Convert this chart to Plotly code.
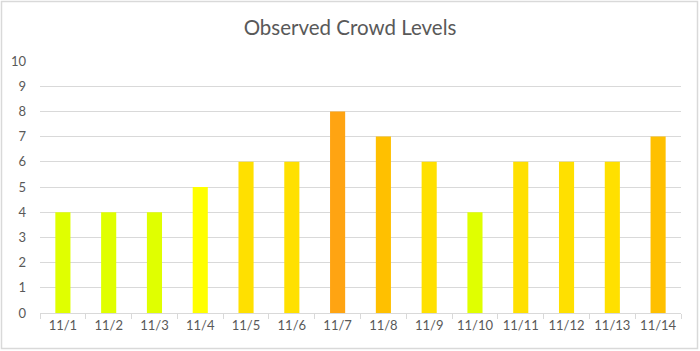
import plotly.graph_objects as go

dates = ["11/1", "11/2", "11/3", "11/4", "11/5", "11/6", "11/7",
         "11/8", "11/9", "11/10", "11/11", "11/12", "11/13", "11/14"]
levels = [4, 4, 4, 5, 6, 6, 8, 7, 6, 4, 6, 6, 6, 7]
level_colors = {4: "#E0FF00", 5: "#FFFF00", 6: "#FFE000", 7: "#FFC000", 8: "#FFA412"}

W, H = 700, 351
ml, mr, mt, mb = 40, 19, 61, 38
pw, ph = W - ml - mr, H - mt - mb

fig = go.Figure(go.Bar(
    x=dates, y=levels,
    marker=dict(color=[level_colors[v] for v in levels], line=dict(width=0)),
    width=0.33,
))

def px2x(p):
    return (p - ml) / pw

def px2y(p):
    return (H - mb - p) / ph

fig.add_shape(type="rect", xref="paper", yref="paper",
              x0=px2x(1.5), x1=px2x(697.5), y0=px2y(348.5), y1=px2y(1.5),
              line=dict(color="#D9D9D9", width=1.5), fillcolor="rgba(0,0,0,0)", layer="below")

fig.update_layout(
    width=W, height=H,
    margin=dict(l=ml, r=mr, t=mt, b=mb),
    paper_bgcolor="white", plot_bgcolor="white",
    font=dict(family="Lato, Carlito, Calibri, sans-serif", color="#595959", size=13),
    title=dict(text="Observed Crowd Levels", x=0.5, xanchor="center", y=1 - 28 / H, yanchor="middle",
               font=dict(size=20.5, color="#595959")),
    showlegend=False,
    bargap=0.67,
)
fig.update_xaxes(
    type="category", showgrid=False, showline=True, linecolor="#D9D9D9", linewidth=1,
    ticks="outside", tickson="boundaries", ticklen=5, tickcolor="#D9D9D9",
    tickfont=dict(size=13, color="#595959"),
)
fig.update_yaxes(
    range=[0, 10], dtick=1, showgrid=True, gridcolor="#D9D9D9", gridwidth=1,
    zeroline=False, showline=False, ticks="", ticklabelstandoff=13,
    tickfont=dict(size=13, color="#595959"),
)

fig.write_html("out.html")
